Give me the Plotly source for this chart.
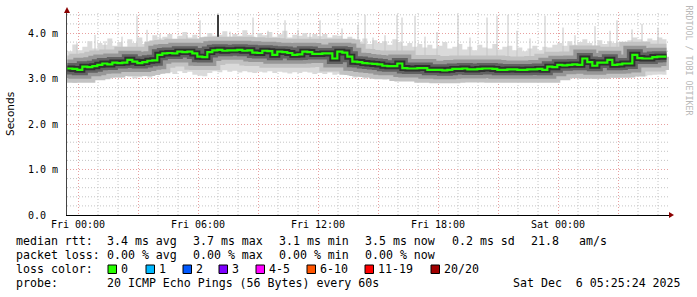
import numpy as np
import pandas as pd
import plotly.graph_objects as go

# ---------------- data ----------------
median_start = "2025-12-04 23:28"
median_step = "15min"
median_rtt = [
    3.22, 3.21, 3.19, 3.26, 3.25, 3.27, 3.30, 3.33, 3.31, 3.35,
    3.34, 3.35, 3.41, 3.37, 3.34, 3.36, 3.39, 3.40, 3.52, 3.55,
    3.56, 3.55, 3.59, 3.58, 3.59, 3.55, 3.48, 3.47, 3.58, 3.62,
    3.63, 3.61, 3.62, 3.62, 3.63, 3.61, 3.62, 3.57, 3.56, 3.61,
    3.60, 3.52, 3.59, 3.58, 3.56, 3.52, 3.53, 3.59, 3.58, 3.54,
    3.54, 3.55, 3.55, 3.44, 3.59, 3.57, 3.48, 3.37, 3.36, 3.34,
    3.33, 3.32, 3.31, 3.28, 3.27, 3.27, 3.33, 3.23, 3.22, 3.22,
    3.23, 3.23, 3.19, 3.19, 3.19, 3.18, 3.19, 3.21, 3.21, 3.22,
    3.20, 3.20, 3.21, 3.22, 3.22, 3.21, 3.19, 3.19, 3.20, 3.20,
    3.19, 3.19, 3.20, 3.20, 3.21, 3.19, 3.26, 3.25, 3.30, 3.29,
    3.30, 3.31, 3.30, 3.44, 3.36, 3.28, 3.35, 3.35, 3.41, 3.30,
    3.31, 3.33, 3.33, 3.52, 3.45, 3.44, 3.44, 3.47, 3.48, 3.48,
]
# upper / lower edge of the ping spread, same 15-minute steps
smoke_hi = [
    3.60, 3.75, 3.62, 3.70, 3.82, 3.66, 3.78, 3.74, 3.88, 3.72,
    3.80, 3.70, 3.86, 3.78, 3.90, 3.76, 3.82, 3.95, 3.88, 3.92,
    3.98, 3.86, 3.94, 4.02, 3.90, 3.96, 3.88, 3.92, 4.00, 3.94,
    3.96, 4.04, 3.92, 3.98, 3.94, 4.06, 3.96, 3.90, 4.00, 3.95,
    4.02, 3.92, 3.97, 4.05, 3.90, 3.96, 3.94, 4.00, 3.92, 3.98,
    3.93, 3.98, 3.90, 3.95, 3.94, 3.86, 3.92, 3.84, 3.80, 3.88,
    3.76, 3.84, 3.78, 3.82, 3.74, 3.86, 3.80, 3.72, 3.78, 3.70,
    3.76, 3.68, 3.74, 3.66, 3.72, 3.80, 3.66, 3.70, 3.76, 3.64,
    3.70, 3.62, 3.74, 3.68, 3.66, 3.76, 3.64, 3.70, 3.72, 3.62,
    3.68, 3.60, 3.66, 3.72, 3.62, 3.70, 3.68, 3.74, 3.78, 3.72,
    3.82, 3.74, 3.80, 3.86, 3.78, 3.72, 3.84, 3.76, 3.82, 3.78,
    3.80, 3.76, 3.84, 3.90, 3.86, 3.82, 3.88, 3.84, 3.90, 3.86,
]
smoke_lo = [
    2.98, 2.90, 2.95, 3.00, 2.96, 3.02, 2.98, 3.04, 3.00, 3.05,
    3.02, 3.06, 3.04, 3.00, 3.03, 3.05, 3.02, 3.08, 3.10, 3.12,
    3.14, 3.10, 3.16, 3.12, 3.15, 3.08, 3.06, 3.05, 3.12, 3.16,
    3.14, 3.18, 3.15, 3.17, 3.13, 3.16, 3.14, 3.12, 3.15, 3.13,
    3.16, 3.12, 3.15, 3.13, 3.11, 3.14, 3.12, 3.15, 3.13, 3.10,
    3.12, 3.10, 3.13, 3.08, 3.11, 3.09, 3.06, 3.02, 3.04, 3.00,
    3.03, 3.00, 3.02, 2.98, 3.00, 2.97, 3.01, 2.96, 2.99, 2.97,
    2.98, 2.95, 2.97, 2.99, 2.94, 2.97, 2.96, 2.99, 2.97, 2.98,
    2.96, 2.98, 2.95, 2.97, 2.99, 2.96, 2.94, 2.97, 2.96, 2.98,
    2.95, 2.97, 2.96, 2.98, 2.95, 2.97, 2.99, 2.98, 3.01, 3.00,
    3.00, 3.02, 3.00, 3.05, 3.03, 2.99, 3.02, 3.04, 3.05, 3.01,
    3.02, 3.04, 3.03, 3.08, 3.06, 3.05, 3.07, 3.08, 3.09, 3.08,
]
last_update = "2025-12-06 05:25:24"

# single-ping outliers (hours after Fri 00:00, top value in ms)
spike_origin = "2025-12-05 00:00"
spike_hours = [
    -0.05, 0.85, 1.35, 2.2, 2.95, 3.45, 4.1, 4.45, 5.45, 6.1,
    7.6, 8.75, 9.5, 10.35, 11.0, 11.6, 12.1, 13.2, 14.0, 14.35,
    14.75, 15.35, 15.95, 16.2, 16.85, 17.35, 17.95, 19.0, 19.6, 20.45,
    20.95, 21.5, 21.95, 22.6, 23.35, 24.25, 24.85, 25.85, 26.6, 26.95,
    27.7, 28.2, 29.0,
]
spike_top = [
    3.78, 3.96, 3.82, 3.92, 4.38, 4.07, 3.98, 3.88, 3.95, 4.28,
    4.03, 4.34, 4.05, 4.28, 4.07, 4.00, 4.28, 4.10, 4.18, 4.40,
    3.90, 3.95, 4.40, 4.34, 4.38, 3.92, 4.02, 4.40, 3.90, 4.34,
    4.38, 4.40, 4.05, 3.88, 4.38, 4.12, 3.95, 4.15, 4.05, 4.28,
    4.08, 4.20, 4.12,
]
outlier_hour = 7.0
outlier_top = 4.40

y_tickvals = [0, 1, 2, 3, 4]
y_ticktext = ["0.0\u00a0\u00a0", "1.0 m", "2.0 m", "3.0 m", "4.0 m"]
x_tick_hours = [0, 3, 6, 9, 12, 15, 18, 21, 24, 27]
x_ticktext = ["Fri 00:00", "", "Fri 06:00", "", "Fri 12:00", "",
              "Fri 18:00", "", "Sat 00:00", ""]

legend_rows = [
    [(16, "median rtt:"), (107, "3.4 ms avg"), (193, "3.7 ms max"), (279, "3.1 ms min"),
     (365, "3.5 ms now"), (452, "0.2 ms sd"), (531, "21.8"), (579, "am/s")],
    [(16, "packet loss:"), (107, "0.00 % avg"), (193, "0.00 % max"), (279, "0.00 % min"),
     (365, "0.00 % now")],
    [(16, "loss color:")],
    [(16, "probe:"), (107, "20 ICMP Echo Pings (56 Bytes) every 60s"),
     (513, "Sat Dec\u00a0\u00a06 05:25:24 2025")],
]
loss_labels = ["0", "1", "2", "3", "4-5", "6-10", "11-19", "20/20"]
loss_colors = ["#26ff00", "#00b8ff", "#0059ff", "#7e00ff", "#ff00ff", "#ff5500", "#ff0000", "#a10000"]
loss_box_x = [108, 146, 183, 219, 256, 307, 365, 431]

# ---------------- geometry helpers ----------------
W, H = 697, 297
ML, MR, MT, MB = 67, 28, 12, 82
PW, PH = W - ML - MR, H - MT - MB
YMAX = PH / 45.5


def px(xp):
    return (xp - ML) / PW


def py(yp):
    return (H - MB - yp) / PH


t_med = pd.date_range(median_start, periods=len(median_rtt), freq=median_step)
t_plot = list(t_med) + [pd.Timestamp(last_update)]
med_plot = list(median_rtt) + [median_rtt[-1]]
hi_plot = list(smoke_hi) + [smoke_hi[-1]]
lo_plot = list(smoke_lo) + [smoke_lo[-1]]

origin = pd.Timestamp(spike_origin)
t_spk = [origin + pd.Timedelta(hours=h) for h in spike_hours]
med_num = t_med.asi8.astype(float)
spk_base = np.interp([t.value for t in t_spk], med_num, median_rtt)

fig = go.Figure()

# outer smoke band
fig.add_trace(go.Scatter(x=t_plot, y=lo_plot, mode="lines",
                         line=dict(width=0, color="#dadada", shape="hv"), hoverinfo="skip"))
fig.add_trace(go.Scatter(x=t_plot, y=hi_plot, mode="lines",
                         line=dict(width=0, color="#dadada", shape="hv"),
                         fill="tonexty", fillcolor="#dadada", hoverinfo="skip"))

# light spikes
sx, sy = [], []
for t, b, top in zip(t_spk, spk_base, spike_top):
    sx += [t, t, None]
    sy += [b, top, None]
fig.add_trace(go.Scatter(x=sx, y=sy, mode="lines", line=dict(width=1, color="#c6c6c6"),
                         hoverinfo="skip"))

# dark outlier
t_out = origin + pd.Timedelta(hours=outlier_hour)
b_out = float(np.interp(t_out.value, med_num, median_rtt))
fig.add_trace(go.Scatter(x=[t_out, t_out], y=[b_out, outlier_top], mode="lines",
                         line=dict(width=2, color="#3c3c3c"), hoverinfo="skip"))

# inner smoke around median
for w, c in [(26, "#c2c2c2"), (18, "#979797"), (11, "#626262"), (6, "#303030")]:
    fig.add_trace(go.Scatter(x=t_plot, y=med_plot, mode="lines",
                             line=dict(width=w, color=c, shape="hv"), hoverinfo="skip"))

# median line
fig.add_trace(go.Scatter(x=t_plot, y=med_plot, mode="lines",
                         line=dict(width=2.2, color="#22ff00", shape="hv"), hoverinfo="skip"))

x_tickvals = [origin + pd.Timedelta(hours=h) for h in x_tick_hours]

MGRID = "#e8a0a0"
GRID = "#c4c4c4"
DASH = "1px,2px"
mono = "DejaVu Sans Mono"

fig.update_layout(
    width=W, height=H,
    margin=dict(l=ML, r=MR, t=MT, b=MB),
    paper_bgcolor="white", plot_bgcolor="white",
    showlegend=False,
    xaxis=dict(
        range=["2025-12-04 23:27", "2025-12-06 05:33"],
        tickmode="array", tickvals=x_tickvals, ticktext=x_ticktext,
        showgrid=True, gridcolor=MGRID, griddash=DASH, gridwidth=1,
        showline=True, linecolor="#000000", linewidth=1,
        ticks="", zeroline=False,
        tickfont=dict(family=mono, size=10, color="#000000"),
    ),
    yaxis=dict(
        range=[0, YMAX],
        tickmode="array", tickvals=y_tickvals, ticktext=y_ticktext,
        showgrid=True, gridcolor=MGRID, griddash=DASH, gridwidth=1,
        showline=True, linecolor="#444444", linewidth=1,
        ticks="", zeroline=False, ticklabelstandoff=6,
        tickfont=dict(family=mono, size=10, color="#000000"),
    ),
)

shapes = []
# minor grid (hourly / 0.2 ms), skipping major positions
for h in range(0, 30):
    if h % 3 != 0:
        t = origin + pd.Timedelta(hours=h)
        shapes.append(dict(type="line", xref="x", yref="paper", x0=t, x1=t, y0=0, y1=1,
                           layer="below", line=dict(color=GRID, width=1, dash=DASH)))
for k in range(1, 23):
    if k % 5 != 0:
        v = k * 0.2
        shapes.append(dict(type="line", xref="paper", yref="y", x0=0, x1=1, y0=v, y1=v,
                           layer="below", line=dict(color=GRID, width=1, dash=DASH)))

shapes += [
    dict(type="path", xref="paper", yref="paper", xanchor=0, yanchor=1,
         xsizemode="pixel", ysizemode="pixel", path="M -3,-1 L 3,-1 L 0,5 Z",
         fillcolor="#8b0000", line=dict(width=0)),
    dict(type="path", xref="paper", yref="paper", xanchor=1, yanchor=0,
         xsizemode="pixel", ysizemode="pixel", path="M 0,-3 L 0,3 L 5,0 Z",
         fillcolor="#8b0000", line=dict(width=0)),
]

annotations = []
row_y = [241, 255, 269, 283]
for ry, row in zip(row_y, legend_rows):
    for xp, txt in row:
        annotations.append(dict(x=px(xp - 2), y=py(ry), xref="paper", yref="paper",
                                xanchor="left", yanchor="middle", showarrow=False,
                                text=txt.replace("  ", "\u00a0\u00a0"),
                                font=dict(family=mono, size=11.6, color="#000000")))

for bx, lab, col in zip(loss_box_x, loss_labels, loss_colors):
    shapes.append(dict(type="rect", xref="paper", yref="paper",
                       x0=px(bx), x1=px(bx + 8.5), y0=py(273.5), y1=py(265),
                       fillcolor=col, line=dict(color="#000000", width=1)))
    annotations.append(dict(x=px(bx + 12.5 - 2), y=py(269), xref="paper", yref="paper",
                            xanchor="left", yanchor="middle", showarrow=False, text=lab,
                            font=dict(family=mono, size=11.6, color="#000000")))

annotations.append(dict(x=px(10), y=py(114), xref="paper", yref="paper", showarrow=False,
                        text="Seconds", textangle=-90, xanchor="center", yanchor="middle",
                        font=dict(family="DejaVu Sans", size=10.5, color="#000000")))
annotations.append(dict(x=px(688.5), y=py(60), xref="paper", yref="paper", showarrow=False,
                        text="RRDTOOL / TOBI OETIKER", textangle=90,
                        xanchor="center", yanchor="middle",
                        font=dict(family=mono, size=8.3, color="#b8b8b8")))

fig.update_layout(shapes=shapes, annotations=annotations)
fig.write_html("out.html")
